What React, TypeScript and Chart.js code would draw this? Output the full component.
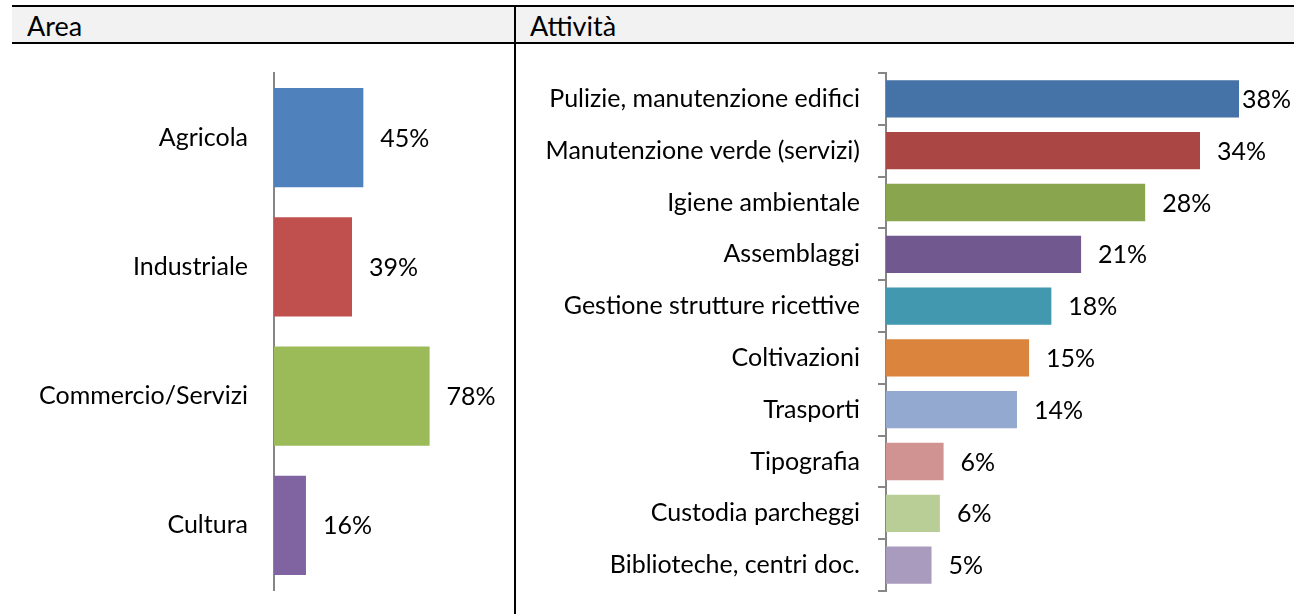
import React, { useEffect, useRef } from "react";
import { Chart, registerables } from "chart.js";

Chart.register(...registerables);

const leftCategories = ["Agricola", "Industriale", "Commercio/Servizi", "Cultura"];
const leftValues = [45, 39.3, 78.4, 16.1];
const leftColors = ["#4F81BD", "#C0504D", "#9BBB59", "#8064A2"];

const rightCategories = [
  "Pulizie, manutenzione edifici",
  "Manutenzione verde (servizi)",
  "Igiene ambientale",
  "Assemblaggi",
  "Gestione strutture ricettive",
  "Coltivazioni",
  "Trasporti",
  "Tipografia",
  "Custodia parcheggi",
  "Biblioteche, centri doc.",
];
const rightValues = [38.0, 33.8, 27.9, 21.0, 17.8, 15.4, 14.1, 6.2, 5.8, 4.9];
const rightColors = [
  "#4572A7",
  "#AA4643",
  "#89A54E",
  "#71588F",
  "#4198AF",
  "#DB843D",
  "#93A9CF",
  "#D19392",
  "#B9CD96",
  "#A99BBD",
];

const headerLeft = "Area";
const headerRight = "Attività";

const FONT = "Lato, 'Open Sans', sans-serif";
const FS = 25;
const W = 1294;
const H = 614;

const valueLabelPlugin = {
  id: "valueLabels",
  afterDatasetsDraw(chart: any, _args: any, opts: any) {
    const ctx = chart.ctx;
    const meta = chart.getDatasetMeta(0);
    const values = chart.data.datasets[0].data as number[];
    ctx.save();
    ctx.font = `${opts.size || FS}px ${FONT}`;
    ctx.fillStyle = "#000";
    ctx.textAlign = "left";
    ctx.textBaseline = "middle";
    meta.data.forEach((bar: any, i: number) => {
      const text = Math.round(values[i]) + "%";
      const w = ctx.measureText(text).width;
      let x = bar.x + (opts.offset || 17);
      if (x + w > opts.maxRight) x = opts.maxRight - w;
      ctx.fillText(text, x, bar.y + 1);
    });
    ctx.restore();
  },
};

function makeConfig(
  labels: string[],
  values: number[],
  colors: string[],
  axisWidth: number,
  xMax: number,
  padRight: number,
  padBottom: number,
  barPct: number,
  withTicks: boolean
): any {
  return {
    type: "bar",
    data: {
      labels,
      datasets: [
        {
          data: values,
          backgroundColor: colors,
          borderWidth: 0,
          barPercentage: barPct,
          categoryPercentage: 1,
        },
      ],
    },
    plugins: [valueLabelPlugin],
    options: {
      indexAxis: "y",
      animation: false,
      responsive: false,
      devicePixelRatio: 1,
      layout: { padding: { left: 0, right: padRight, top: 73, bottom: padBottom } },
      plugins: {
        legend: { display: false },
        tooltip: { enabled: false },
        valueLabels: { offset: 17, maxRight: 1291, size: FS },
      },
      scales: {
        x: { display: false, min: 0, max: xMax },
        y: {
          afterFit: (scale: any) => {
            scale.width = axisWidth;
            scale.paddingTop = 0;
            scale.paddingBottom = 0;
          },
          border: { display: true, color: "#868686", width: 2 },
          grid: withTicks
            ? {
                display: true,
                drawOnChartArea: false,
                drawTicks: true,
                tickLength: 8,
                offset: true,
                color: "#868686",
                lineWidth: 2,
              }
            : { display: false, drawTicks: false },
          ticks: {
            color: "#000",
            padding: withTicks ? 18 : 26,
            font: { family: FONT, size: FS },
          },
        },
      },
    },
  };
}

export default function App() {
  const leftRef = useRef<HTMLCanvasElement>(null);
  const rightRef = useRef<HTMLCanvasElement>(null);

  useEffect(() => {
    const left = new Chart(
      leftRef.current as HTMLCanvasElement,
      makeConfig(leftCategories, leftValues, leftColors, 274, 100, W - (274 + 198.5), H - 590, 0.766, false)
    );
    const right = new Chart(
      rightRef.current as HTMLCanvasElement,
      makeConfig(rightCategories, rightValues, rightColors, 886, 40, W - (886 + 371.6), H - 591, 0.72, true)
    );
    return () => {
      left.destroy();
      right.destroy();
    };
  }, []);

  const headerText: React.CSSProperties = {
    position: "absolute",
    top: 8,
    height: 35,
    display: "flex",
    alignItems: "center",
    fontFamily: FONT,
    fontSize: 27,
    color: "#000",
    whiteSpace: "nowrap",
  };

  return (
    <div
      style={{
        position: "fixed",
        left: 0,
        top: 0,
        width: W,
        height: H,
        background: "#fff",
        overflow: "hidden",
      }}
    >
      <div style={{ position: "absolute", left: 12, top: 7, width: W - 12, height: 35, background: "#F2F2F2" }} />
      <div style={{ position: "absolute", left: 12, top: 5, width: W - 12, height: 2, background: "#000" }} />
      <div style={{ position: "absolute", left: 12, top: 42, width: W - 12, height: 2, background: "#000" }} />
      <div style={{ position: "absolute", left: 514, top: 5, width: 2, height: H - 5, background: "#000" }} />
      <div style={{ ...headerText, left: 27 }}>{headerLeft}</div>
      <div style={{ ...headerText, left: 530 }}>{headerRight}</div>
      <canvas ref={leftRef} width={W} height={H} style={{ position: "absolute", left: 0, top: 0, width: W, height: H }} />
      <canvas ref={rightRef} width={W} height={H} style={{ position: "absolute", left: 0, top: 0, width: W, height: H }} />
    </div>
  );
}
